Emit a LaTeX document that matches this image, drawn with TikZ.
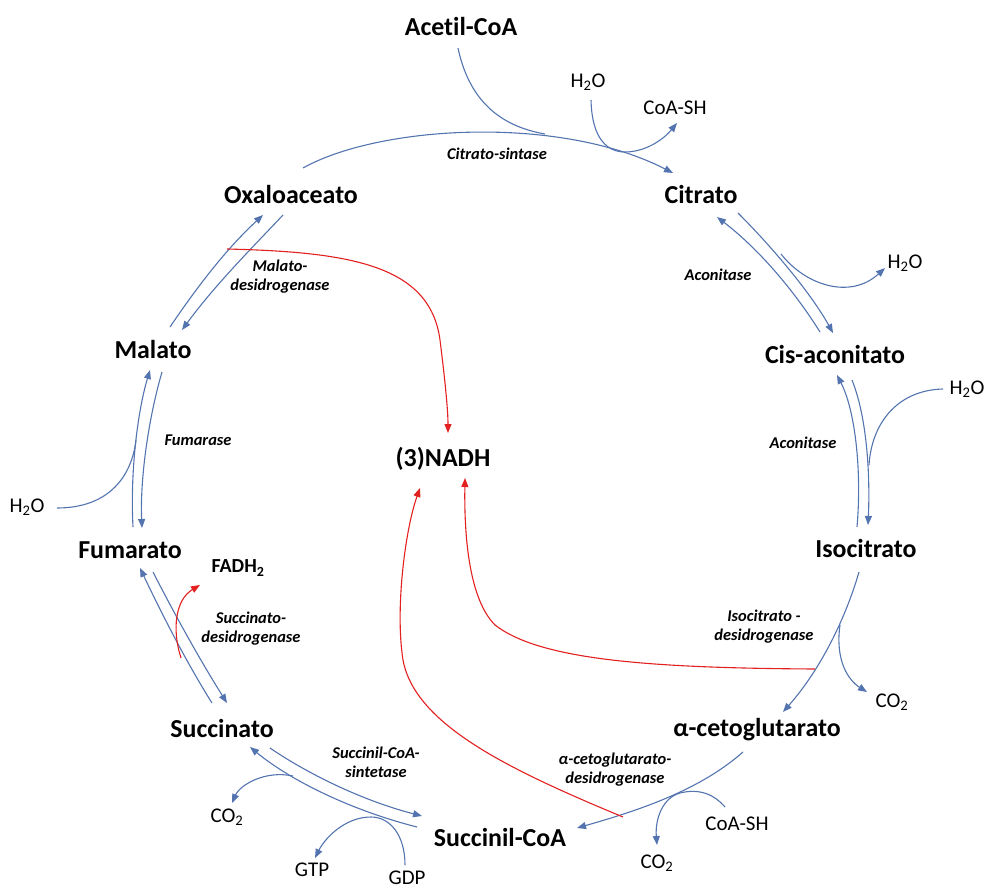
\documentclass[tikz,border=0pt]{standalone}
\usepackage{fontspec}
\setmainfont{Carlito}[Ligatures=NoCommon]
\usetikzlibrary{arrows.meta}
\definecolor{cblue}{RGB}{84,116,176}
\definecolor{cred}{RGB}{226,32,32}
\tikzset{
  met/.style={font=\fontsize{26}{28}\selectfont\bfseries, inner sep=0pt},
  enz/.style={font=\fontsize{16.5}{19}\selectfont\bfseries\itshape, align=center, inner sep=0pt},
  sm/.style={font=\fontsize{21}{23}\selectfont, inner sep=0pt},
  bl/.style={draw=cblue, line width=1.1bp},
  ba/.style={bl, -{Triangle[length=9bp,width=7bp]}},
  rd/.style={draw=cred, line width=1.1bp, -{Triangle[length=9bp,width=7bp]}},
}
\begin{document}
\begin{tikzpicture}[x=1bp,y=-1bp]
\useasboundingbox (0,0) rectangle (987,888);
% metabolites
\node[met] (acetil) at (461,27) {Acetil-CoA};
\node[met] (citrato) at (701,195) {Citrato};
\node[met] (oxa) at (291,195) {Oxaloaceato};
\node[met] (cis) at (835,355) {Cis-aconitato};
\node[met] (iso) at (866,549) {Isocitrato};
\node[met] (akg) at (757,730) {α-cetoglutarato};
\node[met] (scoa) at (500,837) {Succinil-CoA};
\node[met] (succ) at (222,728) {Succinato};
\node[met] (fum) at (130,550) {Fumarato};
\node[met] (mal) at (153,350) {Malato};
\node[met] (nadh) at (443,459) {(3)NADH};
\node[met, font=\fontsize{20}{22}\selectfont\bfseries] (fadh) at (238,568) {FADH\textsubscript{2}};
% enzymes
\node[enz] (e1) at (497,154) {Citrato-sintase};
\node[enz] (e2) at (718,275) {Aconitase};
\node[enz] (e3) at (803,443) {Aconitase};
\node[enz] (e4) at (764,627) {Isocitrato -\\desidrogenase};
\node[enz] (e5) at (615,770) {α-cetoglutarato-\\desidrogenase};
\node[enz] (e6) at (376,762) {Succinil-CoA-\\sintetase};
\node[enz] (e7) at (251,629) {Succinato-\\desidrogenase};
\node[enz] (e8) at (198,440) {Fumarase};
\node[enz] (e9) at (280,277) {Malato-\\desidrogenase};
% small species
\node[sm] (h2oa) at (588,82) {H\textsubscript{2}O};
\node[sm] (coasha) at (675,108) {CoA-SH};
\node[sm] (h2ob) at (905,263) {H\textsubscript{2}O};
\node[sm] (h2oc) at (967,389) {H\textsubscript{2}O};
\node[sm] (co2a) at (892,702) {CO\textsubscript{2}};
\node[sm] (coashb) at (737,824) {CoA-SH};
\node[sm] (co2b) at (657,863) {CO\textsubscript{2}};
\node[sm] (co2c) at (227,817) {CO\textsubscript{2}};
\node[sm] (gtp) at (312,870) {GTP};
\node[sm] (gdp) at (407,878) {GDP};
\node[sm] (h2od) at (27,507) {H\textsubscript{2}O};
% coordinates
\coordinate (a0) at (303,168);
\coordinate (a1) at (673,173);
\coordinate (ac0) at (458,48);
\coordinate (ac1) at (545,134);
\coordinate (w0) at (591,100);
\coordinate (w1) at (625,152);
\coordinate (w2) at (677,123);
% Oxaloaceato -> Citrato
\draw[ba] (a0) .. controls (380,125) and (560,115) .. (a1);
\draw[bl] (ac0) .. controls (470,105) and (505,127) .. (ac1);
\draw[ba] (w0) .. controls (592,140) and (608,152) .. (w1) .. controls (645,152) and (663,140) .. (w2);
% Citrato <-> Cis-aconitato
\coordinate (c1s) at (820,332); \coordinate (c1e) at (717,217);
\coordinate (c2s) at (738,213); \coordinate (c2e) at (833,333);
\coordinate (cw0) at (781,254); \coordinate (cw1) at (885,268);
\draw[ba] (c1s) .. controls (795,292) and (760,250) .. (c1e);
\draw[ba] (c2s) .. controls (775,250) and (812,295) .. (c2e);
\draw[ba] (cw0) .. controls (805,285) and (850,300) .. (cw1);
% Cis-aconitato <-> Isocitrato
\coordinate (d1s) at (857,527); \coordinate (d1e) at (837,375);
\coordinate (d2s) at (852,380); \coordinate (d2e) at (868,525);
\coordinate (dw0) at (943,389); \coordinate (dw1) at (869,465);
\draw[ba] (d1s) .. controls (862,470) and (855,410) .. (d1e);
\draw[ba] (d2s) .. controls (868,420) and (870,480) .. (d2e);
\draw[bl] (dw0) .. controls (900,390) and (872,420) .. (dw1);
% Isocitrato -> alpha-cetoglutarato
\coordinate (f0) at (859,572); \coordinate (f1) at (783,712);
\coordinate (fc0) at (840,625); \coordinate (fc1) at (867,692);
\coordinate (fr0) at (815,669); \coordinate (fr1) at (495,625); \coordinate (fr2) at (465,478);
\draw[ba] (f0) .. controls (845,620) and (820,670) .. (f1);
\draw[ba] (fc0) .. controls (835,660) and (848,680) .. (fc1);
\draw[rd] (fr0) .. controls (650,668) and (540,660) .. (fr1) .. controls (470,600) and (464,540) .. (fr2);
% alpha-cetoglutarato -> Succinil-CoA
\coordinate (g0) at (743,752); \coordinate (g1) at (577,828);
\coordinate (gs0) at (725,807); \coordinate (gs1) at (680,793);
\coordinate (gc1) at (657,845);
\coordinate (gr0) at (623,817); \coordinate (gr1) at (403,660); \coordinate (gr2) at (420,488);
\draw[ba] (g0) .. controls (700,790) and (640,810) .. (g1);
\draw[bl] (gs0) .. controls (715,795) and (700,788) .. (gs1);
\draw[ba] (gs1) .. controls (662,798) and (655,820) .. (gc1);
\draw[rd] (gr0) .. controls (510,770) and (415,725) .. (gr1) .. controls (395,610) and (405,530) .. (gr2);
% Succinil-CoA <-> Succinato
\coordinate (h1s) at (270,748); \coordinate (h1e) at (422,816);
\coordinate (h2s) at (417,827); \coordinate (h2e) at (250,747);
\coordinate (hc0) at (293,776); \coordinate (hc1) at (232,803);
\coordinate (hg0) at (405,865); \coordinate (hg1) at (371,817); \coordinate (hg2) at (315,858);
\draw[ba] (h1s) .. controls (305,772) and (360,800) .. (h1e);
\draw[ba] (h2s) .. controls (350,810) and (290,780) .. (h2e);
\draw[ba] (hc0) .. controls (265,770) and (240,785) .. (hc1);
\draw[ba] (hg0) .. controls (405,835) and (390,817) .. (hg1) .. controls (345,817) and (325,838) .. (hg2);
% Succinato <-> Fumarato
\coordinate (i1s) at (212,703); \coordinate (i1e) at (140,568);
\coordinate (i2s) at (153,572); \coordinate (i2e) at (227,703);
\coordinate (ir0) at (181,658); \coordinate (ir1) at (200,585);
\draw[ba] (i1s) .. controls (185,660) and (160,610) .. (i1e);
\draw[ba] (i2s) .. controls (175,615) and (200,660) .. (i2e);
\draw[rd] (ir0) .. controls (172,630) and (175,600) .. (ir1);
% Fumarato <-> Malato
\coordinate (j1s) at (133,527); \coordinate (j1e) at (150,370);
\coordinate (j2s) at (162,372); \coordinate (j2e) at (142,528);
\coordinate (jw0) at (57,508); \coordinate (jw1) at (136,440);
\draw[ba] (j1s) .. controls (130,470) and (138,410) .. (j1e);
\draw[ba] (j2s) .. controls (148,420) and (140,480) .. (j2e);
\draw[bl] (jw0) .. controls (110,508) and (132,475) .. (jw1);
% Malato <-> Oxaloaceato
\coordinate (k1s) at (170,327); \coordinate (k1e) at (263,215);
\coordinate (k2s) at (283,215); \coordinate (k2e) at (182,330);
\coordinate (kr0) at (227,249); \coordinate (kr1) at (440,340); \coordinate (kr2) at (448,433);
\draw[ba] (k1s) .. controls (195,290) and (225,250) .. (k1e);
\draw[ba] (k2s) .. controls (250,250) and (215,285) .. (k2e);
\draw[rd] (kr0) .. controls (350,252) and (430,265) .. (kr1) .. controls (445,380) and (448,410) .. (kr2);
\end{tikzpicture}
\end{document}
